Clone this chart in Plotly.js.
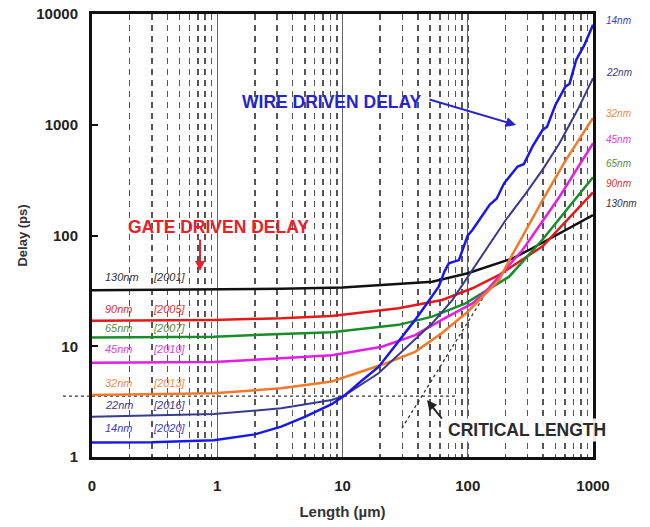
<!DOCTYPE html>
<html>
<head>
<meta charset="utf-8">
<script src="https://cdn.plot.ly/plotly-3.0.1.min.js"></script>
<style>html,body{margin:0;padding:0;background:#fff;}#chart{width:650px;height:527px;}</style>
</head>
<body>
<div id="chart"></div>
<script>
// ---- data (length in µm, delay in ps) ----
const nodes = ["14nm", "22nm", "32nm", "45nm", "65nm", "90nm", "130nm"];
const years = ["[2020]", "[2016]", "[2013]", "[2010]", "[2007]", "[2005]", "[2001]"];

const len14 = [0.1, 0.3, 0.94, 2, 3.24, 5, 8.2, 10.4, 14, 19.4, 27, 38, 48, 58.6, 65, 70.6, 85, 100, 109, 123, 150, 170, 195, 250, 280, 330, 396, 430, 500, 600, 650, 734, 850, 1000];
const del14 = [1.35, 1.36, 1.42, 1.6, 1.88, 2.3, 3.0, 3.6, 4.8, 6.5, 10.5, 17.3, 25, 34.5, 47, 56, 60, 100, 112, 138, 190, 215, 296, 420, 440, 640, 897, 960, 1500, 2200, 2350, 3845, 5200, 8000];

const len22 = [0.1, 0.94, 3.24, 8.2, 10.4, 19.4, 30, 52, 75, 100, 139, 201, 291, 400, 540, 750, 1000];
const del22 = [2.31, 2.44, 2.75, 3.27, 3.6, 5.7, 9, 16.1, 26, 42.5, 74, 138, 240, 400, 680, 1350, 2630];

const len32 = [0.1, 0.94, 3.24, 8.2, 20.6, 38, 62, 100, 178, 215, 396, 600, 1000];
const del32 = [3.63, 3.76, 4.17, 4.8, 6.8, 8.9, 13.1, 20.5, 39.7, 60, 209, 470, 1150];

const len45 = [0.1, 0.94, 3.24, 8.2, 20.6, 38, 62, 109, 139, 274, 540, 1000];
const del45 = [7.1, 7.2, 7.8, 8.3, 9.9, 12.6, 17.3, 24.4, 31.1, 74, 224, 680];

const len65 = [0.1, 0.94, 3.24, 8.2, 28, 52, 96, 214, 396, 1000];
const del65 = [12, 12.2, 12.9, 13.4, 15.6, 18.5, 24.4, 42.5, 92, 335];

const len90 = [0.1, 0.94, 3.24, 8.2, 28, 62.4, 109, 178, 396, 1000];
const del90 = [17, 17.3, 17.9, 18.8, 22, 26.2, 33.4, 44, 80, 245];

const len130 = [0.1, 3.24, 10, 52, 100, 227, 309, 1000];
const del130 = [32, 33, 34, 38.3, 45.6, 62, 74, 153];

// critical length guides
const critHorizLen = [0.1, 82];
const critHorizDelay = [3.55, 3.55];
const critDiagLen = [29.8, 144];
const critDiagDelay = [1.82, 32];

const xTickVals = [0.1, 1, 10, 100, 1000];
const xTickText = ["0", "1", "10", "100", "1000"];
const yTickVals = [1, 10, 100, 1000, 10000];
const yTickText = ["1", "10", "100", "1000", "10000"];

// ---- styling ----
const colors = {
  "14nm": "#1818e8", "22nm": "#3a3a8e", "32nm": "#f07a2a", "45nm": "#e41ee4",
  "65nm": "#1a8c2a", "90nm": "#e41a1a", "130nm": "#111111"
};
const labelColors = {
  "14nm": "#3a3ad0", "22nm": "#3a3a80", "32nm": "#f08a4a", "45nm": "#e040e0",
  "65nm": "#5a8a3a", "90nm": "#e03030", "130nm": "#333333"
};
const FONT = "Arial, 'Liberation Sans', sans-serif";

const series = [
  ["130nm", len130, del130, 2.5],
  ["90nm", len90, del90, 2.5],
  ["65nm", len65, del65, 2.5],
  ["45nm", len45, del45, 2.5],
  ["32nm", len32, del32, 2.5],
  ["22nm", len22, del22, 2],
  ["14nm", len14, del14, 2.5]
];

const traces = [
  {x: critHorizLen, y: critHorizDelay, mode: "lines", line: {color: "#333", width: 1.3, dash: "dot"}, hoverinfo: "skip"},
  {x: critDiagLen, y: critDiagDelay, mode: "lines", line: {color: "#333", width: 1.3, dash: "dot"}, hoverinfo: "skip"}
];
series.forEach(([name, xs, ys, w]) => {
  traces.push({x: xs, y: ys, name: name, mode: "lines", line: {color: colors[name], width: w}});
});

// plot area in px: x 92..593, y 14..457
const L = 92, R = 593, T = 14, B = 457;
const px = v => (v - L) / (R - L);
const py = v => (B - v) / (B - T);

const annotations = [];
// left labels (node + year)
const leftY = {"130nm": 277, "90nm": 309, "65nm": 328, "45nm": 349, "32nm": 383, "22nm": 405, "14nm": 428};
nodes.forEach((n, i) => {
  annotations.push({xref: "paper", yref: "paper", x: px(103), y: py(leftY[n]), xanchor: "left", yanchor: "middle",
    text: "<i>" + n + "</i>", showarrow: false, font: {family: FONT, size: 11, color: labelColors[n]}});
  annotations.push({xref: "paper", yref: "paper", x: px(151), y: py(leftY[n]), xanchor: "left", yanchor: "middle",
    text: "<i>" + years[i] + "</i>", showarrow: false, font: {family: FONT, size: 11, color: labelColors[n]}});
});
// right labels
const rightY = {"14nm": 21, "22nm": 72, "32nm": 113, "45nm": 139, "65nm": 164, "90nm": 183, "130nm": 204};
nodes.forEach(n => {
  annotations.push({xref: "paper", yref: "paper", x: px(604), y: py(rightY[n]), xanchor: "left", yanchor: "middle",
    text: "<i>" + n + "</i>", showarrow: false, font: {family: FONT, size: 10, color: labelColors[n]}});
});
// headline texts
annotations.push({xref: "paper", yref: "paper", x: px(218), y: py(227), xanchor: "center", yanchor: "middle",
  text: "<b>GATE DRIVEN DELAY</b>", showarrow: false, font: {family: FONT, size: 17.5, color: "#e8202a"}});
annotations.push({xref: "paper", yref: "paper", x: px(332), y: py(102), xanchor: "center", yanchor: "middle",
  text: "<b>WIRE DRIVEN DELAY</b>", showarrow: false, font: {family: FONT, size: 17.5, color: "#2424d0"}});
annotations.push({xref: "paper", yref: "paper", x: px(527), y: py(430), xanchor: "center", yanchor: "middle",
  text: "<b>CRITICAL LENGTH</b>", showarrow: false, font: {family: FONT, size: 17.5, color: "#2a2a2a"}, bgcolor: "rgba(255,255,255,0.9)"});
// arrows
annotations.push({xref: "paper", yref: "paper", x: px(200), y: py(271), ax: 0, ay: -33, text: "", showarrow: true,
  arrowhead: 2, arrowsize: 1, arrowwidth: 2, arrowcolor: "#e8202a"});
annotations.push({xref: "paper", yref: "paper", x: px(516), y: py(125), ax: -88, ay: -26, text: "", showarrow: true,
  arrowhead: 2, arrowsize: 1, arrowwidth: 2, arrowcolor: "#2424d0"});
annotations.push({xref: "paper", yref: "paper", x: px(427), y: py(400), ax: 16, ay: 20, text: "", showarrow: true,
  arrowhead: 2, arrowsize: 1, arrowwidth: 2, arrowcolor: "#222"});

const layout = {
  width: 650, height: 527,
  margin: {l: L, r: 650 - R, t: T, b: 527 - B},
  paper_bgcolor: "#fff", plot_bgcolor: "#fff",
  showlegend: false,
  font: {family: FONT, color: "#222"},
  xaxis: {
    type: "log", range: [-1, 3], tickvals: xTickVals, ticktext: xTickText,
    showgrid: true, gridcolor: "#666", gridwidth: 1,
    minor: {dtick: "D1", showgrid: true, gridcolor: "#555", gridwidth: 1.5, griddash: "6px,5px", ticks: ""},
    ticks: "", showline: true, mirror: true, linewidth: 3, linecolor: "#111",
    tickfont: {family: FONT, size: 15, weight: "bold", color: "#222"}, ticklabelstandoff: 13,
    title: {text: "<b>Length (µm)</b>", font: {family: FONT, size: 15, color: "#333"}, standoff: 14},
    zeroline: false, automargin: false
  },
  yaxis: {
    type: "log", range: [0, 4], tickvals: yTickVals, ticktext: yTickText,
    showgrid: false, ticks: "inside", ticklen: 6, tickwidth: 2, tickcolor: "#111",
    showline: true, mirror: true, linewidth: 3, linecolor: "#111",
    tickfont: {family: FONT, size: 15, weight: "bold", color: "#222"}, ticklabelstandoff: 8,
    title: {text: "<b>Delay (ps)</b>", font: {family: FONT, size: 13, color: "#333"}, standoff: 6},
    zeroline: false, automargin: false
  },
  shapes: [
    {type: "line", xref: "paper", yref: "y", x0: -0.058, x1: 0, y0: 3.55, y1: 3.55, line: {color: "#333", width: 1.3, dash: "dot"}}
  ],
  annotations: annotations
};

Plotly.newPlot("chart", traces, layout, {staticPlot: true, displayModeBar: false});
</script>
</body>
</html>
